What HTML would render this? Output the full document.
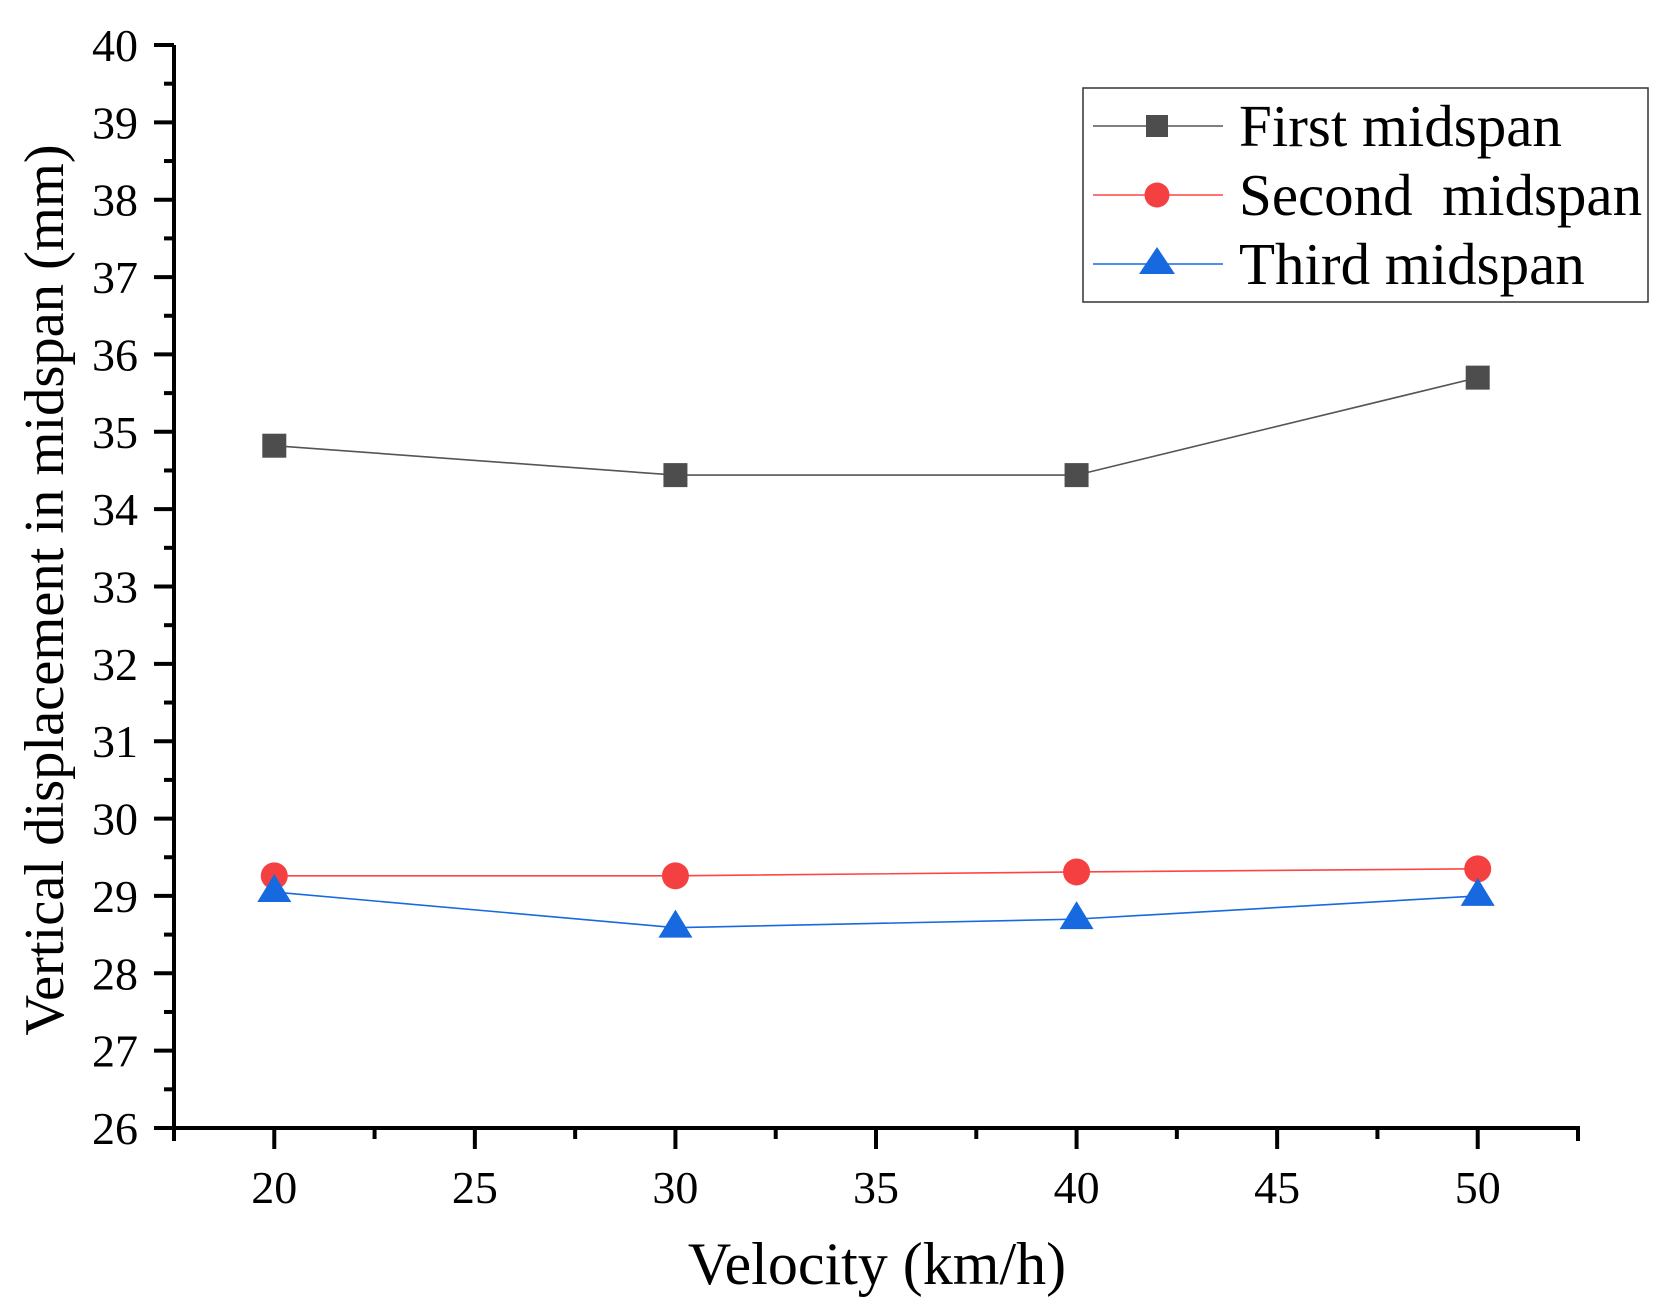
<!DOCTYPE html>
<html><head><meta charset="utf-8"><style>
html,body{margin:0;padding:0;background:#fff;}
svg{display:block;font-family:"Liberation Serif",serif;}
</style></head><body>
<svg id="chart" width="1672" height="1308" viewBox="0 0 1672 1308" xmlns="http://www.w3.org/2000/svg">
<rect width="1672" height="1308" fill="#fff"/>
<g id="plot"></g>
<text x="0" y="0" transform="translate(63,590) rotate(-90)" text-anchor="middle" font-size="56.5">Vertical displacement in midspan (mm)</text>
<text x="877" y="1284" text-anchor="middle" font-size="60">Velocity (km/h)</text>
<g>
<rect x="1083" y="88" width="565" height="214" fill="#fff" stroke="#333" stroke-width="1.5"/>
<g>
<line x1="1093" y1="126" x2="1223" y2="126" stroke="#555" stroke-width="1.5"/>
<rect x="1146" y="115" width="22" height="22" fill="#4d4d4d"/>
<text x="1239" y="146" font-size="59">First midspan</text></g>
<g>
<line x1="1093" y1="195" x2="1223" y2="195" stroke="#f44" stroke-width="1.5"/>
<circle cx="1157" cy="195" r="12.5" fill="#f44040"/>
<text x="1239" y="215" font-size="59" xml:space="preserve">Second  midspan</text></g>
<g>
<line x1="1093" y1="264" x2="1223" y2="264" stroke="#1769e0" stroke-width="1.5"/>
<polygon points="1157,247 1175,274 1139,274" fill="#1769e0"/>
<text x="1239" y="284" font-size="59">Third midspan</text></g>
</g>
</svg>
<script>
const categories = [20, 30, 40, 50];
const firstMidspan = [34.82, 34.44, 34.44, 35.70];
const secondMidspan = [29.26, 29.26, 29.31, 29.35];
const thirdMidspan = [29.05, 28.59, 28.70, 29.00];
const xTicks = [20, 25, 30, 35, 40, 45, 50];
const yTicks = [26, 27, 28, 29, 30, 31, 32, 33, 34, 35, 36, 37, 38, 39, 40];

const X0 = 17.5, X1 = 52.5, Y0 = 26, Y1 = 40;
const PL = 174, PR = 1578, PT = 45, PB = 1128;
const xs = v => PL + (v - X0) / (X1 - X0) * (PR - PL);
const ys = v => PB - (v - Y0) / (Y1 - Y0) * (PB - PT);
const NS = 'http://www.w3.org/2000/svg';
const plot = document.getElementById('plot');
function mk(tag, attrs, parent) {
  const e = document.createElementNS(NS, tag);
  for (const k in attrs) e.setAttribute(k, attrs[k]);
  (parent || plot).appendChild(e);
  return e;
}
const series = [
  {name:'first', vals:firstMidspan, color:'#555', fill:'#4d4d4d', m:'square'},
  {name:'second', vals:secondMidspan, color:'#f44', fill:'#f44040', m:'circle'},
  {name:'third', vals:thirdMidspan, color:'#1769e0', fill:'#1769e0', m:'triangle'}
];
series.forEach(s => {
  const pts = categories.map((c, i) => xs(c) + ',' + ys(s.vals[i])).join(' ');
  const l = mk('polyline', {points: pts, fill:'none', stroke:s.color, 'stroke-width':1.6});
  
  
  categories.forEach((c, i) => {
    const x = xs(c), y = ys(s.vals[i]);
    let e;
    if (s.m === 'square') e = mk('rect', {x:x-12, y:y-12, width:24, height:24, fill:s.fill});
    else if (s.m === 'circle') e = mk('circle', {cx:x, cy:y, r:13.5, fill:s.fill});
    else e = mk('polygon', {points:`${x},${y-18} ${x+17},${y+10} ${x-17},${y+10}`, fill:s.fill});
    
    
  });
});
const ax = mk('path', {d:`M${PL},${PT} V${PB} H${PR} V${PB+13}`, fill:'none', stroke:'#000', 'stroke-width':4});


mk('line', {x1:PL, y1:PB, x2:PL, y2:PB+13, stroke:'#000', 'stroke-width':4});
yTicks.forEach((t, i) => {
  const y = ys(t);
  mk('line', {x1:PL-20, y1:y, x2:PL, y2:y, stroke:'#000', 'stroke-width':4});
  if (i < yTicks.length - 1) mk('line', {x1:PL-10, y1:ys(t+0.5), x2:PL, y2:ys(t+0.5), stroke:'#000', 'stroke-width':4});
  const tx = mk('text', {x:PL-36, y:y+16, 'text-anchor':'end', 'font-size':46});
  tx.textContent = t;
  
  
});
xTicks.forEach(t => {
  const x = xs(t);
  mk('line', {x1:x, y1:PB, x2:x, y2:PB+21, stroke:'#000', 'stroke-width':4});
  mk('line', {x1:xs(t-2.5), y1:PB, x2:xs(t-2.5), y2:PB+11, stroke:'#000', 'stroke-width':4});
  const tx = mk('text', {x:x, y:1203, 'text-anchor':'middle', 'font-size':46});
  tx.textContent = t;
  
  
});
mk('line', {x1:xs(52.5), y1:PB, x2:xs(52.5), y2:PB+11, stroke:'#000', 'stroke-width':4});
</script>
</body></html>
